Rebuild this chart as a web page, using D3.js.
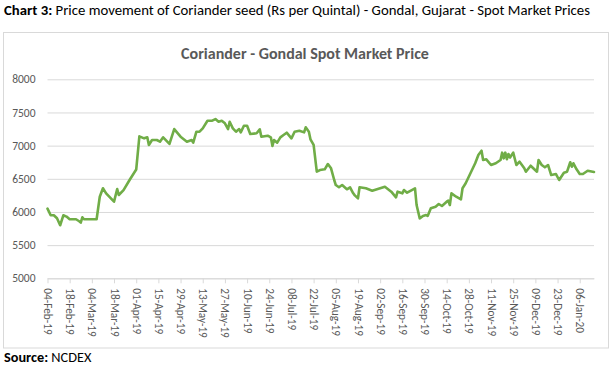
<!DOCTYPE html>
<html><head><meta charset="utf-8">
<script src="https://cdn.jsdelivr.net/npm/d3@7"></script>
<style>
html,body{margin:0;padding:0;background:#fff;}
svg{display:block;font-family:Carlito,Lato,"Open Sans",sans-serif;}
</style></head>
<body>
<svg id="c" width="613" height="367"></svg>
<script>
const dates = ["2019-02-04","2019-02-06","2019-02-08","2019-02-10","2019-02-12","2019-02-14","2019-02-16","2019-02-18","2019-02-22","2019-02-24","2019-02-25","2019-02-26","2019-02-27","2019-03-07","2019-03-09","2019-03-11","2019-03-13","2019-03-18","2019-03-20","2019-03-21","2019-03-24","2019-03-28","2019-04-01","2019-04-03","2019-04-06","2019-04-08","2019-04-09","2019-04-11","2019-04-14","2019-04-16","2019-04-18","2019-04-22","2019-04-25","2019-04-29","2019-05-03","2019-05-06","2019-05-07","2019-05-09","2019-05-11","2019-05-13","2019-05-16","2019-05-19","2019-05-21","2019-05-23","2019-05-25","2019-05-27","2019-05-29","2019-05-30","2019-06-01","2019-06-03","2019-06-05","2019-06-06","2019-06-08","2019-06-10","2019-06-12","2019-06-16","2019-06-18","2019-06-19","2019-06-23","2019-06-25","2019-06-26","2019-06-27","2019-06-29","2019-07-01","2019-07-03","2019-07-05","2019-07-08","2019-07-10","2019-07-13","2019-07-16","2019-07-17","2019-07-19","2019-07-20","2019-07-22","2019-07-24","2019-07-26","2019-07-29","2019-07-31","2019-08-02","2019-08-04","2019-08-05","2019-08-07","2019-08-09","2019-08-12","2019-08-14","2019-08-16","2019-08-17","2019-08-19","2019-08-20","2019-08-24","2019-08-28","2019-09-05","2019-09-09","2019-09-12","2019-09-13","2019-09-16","2019-09-17","2019-09-19","2019-09-22","2019-09-24","2019-09-25","2019-09-27","2019-09-29","2019-10-01","2019-10-02","2019-10-04","2019-10-07","2019-10-09","2019-10-11","2019-10-14","2019-10-15","2019-10-16","2019-10-17","2019-10-20","2019-10-23","2019-10-24","2019-10-26","2019-11-01","2019-11-03","2019-11-05","2019-11-06","2019-11-08","2019-11-11","2019-11-14","2019-11-17","2019-11-18","2019-11-19","2019-11-20","2019-11-21","2019-11-22","2019-11-23","2019-11-25","2019-11-27","2019-11-29","2019-12-02","2019-12-03","2019-12-06","2019-12-10","2019-12-11","2019-12-13","2019-12-15","2019-12-17","2019-12-19","2019-12-22","2019-12-24","2019-12-27","2019-12-29","2019-12-31","2020-01-01","2020-01-02","2020-01-04","2020-01-06","2020-01-08","2020-01-11","2020-01-15"];
const prices = [6050,5950,5950,5905,5800,5950,5930,5890,5890,5860,5840,5920,5890,5890,6230,6357,6281,6155,6346,6256,6330,6490,6640,7140,7110,7125,7010,7085,7085,7060,7125,7025,7250,7135,7060,7085,7045,7210,7210,7260,7376,7376,7400,7360,7376,7337,7250,7360,7260,7210,7250,7200,7300,7300,7175,7186,7245,7135,7150,7125,6995,7085,7045,7125,7160,7195,7110,7210,7225,7200,7276,7210,7095,7010,6607,6632,6643,6723,6658,6482,6406,6372,6406,6342,6372,6281,6250,6206,6372,6357,6321,6381,6306,6221,6306,6281,6331,6291,6331,6357,6105,5904,5939,5954,5940,6055,6080,6120,6090,6155,6170,6105,6281,6230,6191,6357,6432,6734,6859,6924,6784,6794,6708,6734,6784,6894,6809,6894,6794,6874,6820,6894,6708,6758,6658,6607,6697,6607,6784,6708,6673,6708,6557,6572,6482,6592,6607,6749,6683,6734,6643,6572,6572,6622,6602];
const yTicks = [5000,5500,6000,6500,7000,7500,8000];
const xTickLabels = ["04-Feb-19","18-Feb-19","04-Mar-19","18-Mar-19","01-Apr-19","15-Apr-19","29-Apr-19","13-May-19","27-May-19","10-Jun-19","24-Jun-19","08-Jul-19","22-Jul-19","05-Aug-19","19-Aug-19","02-Sep-19","16-Sep-19","30-Sep-19","14-Oct-19","28-Oct-19","11-Nov-19","25-Nov-19","09-Dec-19","23-Dec-19","06-Jan-20"];
const headerBold = "Chart 3:";
const headerText = " Price movement of Coriander seed (Rs per Quintal) - Gondal, Gujarat - Spot Market Prices";
const chartTitle = "Coriander - Gondal Spot Market Price";
const sourceBold = "Source:";
const sourceText = " NCDEX";

const parse = d3.timeParse("%Y-%m-%d");
const tickParse = d3.timeParse("%d-%b-%y");
const data = dates.map((d,i)=>({date:parse(d), v:prices[i]}));

const svg = d3.select("#c");
const L = 47.5, R = 594, T = 79.3, B = 278.3;

// header
const h = svg.append("text").attr("x",4).attr("y",14.5).attr("font-size",14).attr("fill","#000")
  .attr("textLength",586).attr("lengthAdjust","spacingAndGlyphs");
h.append("tspan").attr("font-weight","bold").text(headerBold);
h.append("tspan").text(headerText);

// chart frame
svg.append("rect").attr("x",3.5).attr("y",32.5).attr("width",605).attr("height",315.5)
  .attr("fill","#fff").attr("stroke","#d9d9d9").attr("stroke-width",1);

svg.append("text").attr("x",305).attr("y",58.5).attr("text-anchor","middle")
  .attr("font-size",16).attr("font-weight","bold").attr("fill","#595959").text(chartTitle);

const x = d3.scaleTime().domain([data[0].date, data[data.length-1].date]).range([L,R]);
const y = d3.scaleLinear().domain([5000,8000]).range([B,T]);

// gridlines
const yAxis = d3.axisLeft(y).tickValues(yTicks).tickFormat(d3.format("d")).tickSize(-(R-L)).tickPadding(12);
const gy = svg.append("g").attr("transform",`translate(${L},0)`).call(yAxis);
gy.select(".domain").remove();
gy.selectAll(".tick line").attr("stroke","#d9d9d9").attr("stroke-width",1);
gy.selectAll(".tick text").attr("fill","#595959").attr("font-size",11.5).attr("font-family","Carlito,Lato,sans-serif");

// x axis
const xAxis = d3.axisBottom(x).tickValues(xTickLabels.map(s=>tickParse(s))).tickFormat(d3.timeFormat("%d-%b-%y")).tickSize(5).tickSizeOuter(0);
const gx = svg.append("g").attr("transform",`translate(0,${B})`).call(xAxis);
gx.select(".domain").attr("stroke","#d9d9d9");
gx.selectAll(".tick line").attr("stroke","#d9d9d9");
gx.selectAll(".tick text").attr("fill","#595959").attr("font-size",11.3).attr("font-family","Carlito,Lato,sans-serif")
  .attr("transform","rotate(90)").attr("text-anchor","start").attr("x",10).attr("y",0).attr("dy","0.35em");

// line
const line = d3.line().x(d=>x(d.date)).y(d=>y(d.v));
svg.append("path").datum(data).attr("d",line).attr("fill","none")
  .attr("stroke","#70ad47").attr("stroke-width",2.6).attr("stroke-linejoin","round").attr("stroke-linecap","round");

// source
const s = svg.append("text").attr("x",4).attr("y",362).attr("font-size",14.3).attr("fill","#000");
s.append("tspan").attr("font-weight","bold").text(sourceBold);
s.append("tspan").text(sourceText);
</script>
</body></html>
